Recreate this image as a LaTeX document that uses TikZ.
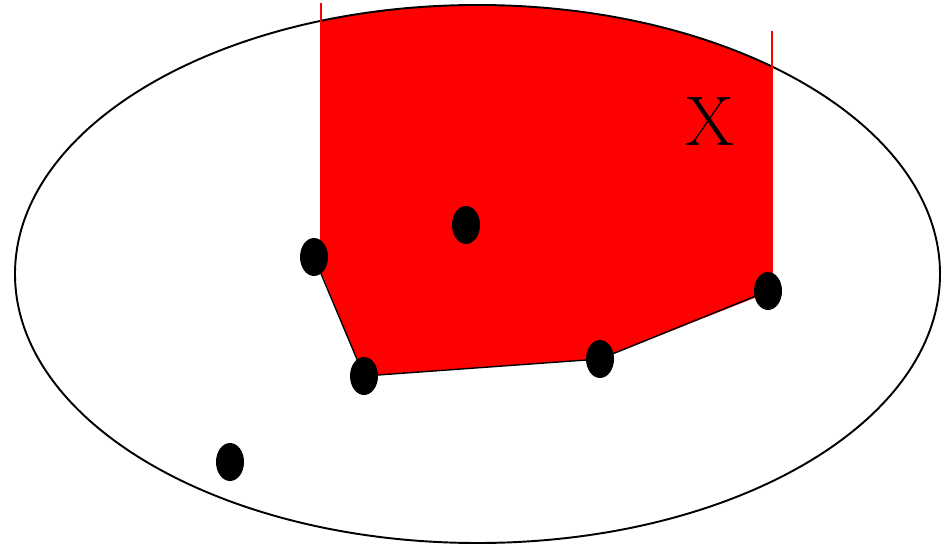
\documentclass[tikz,border=0pt]{standalone}
\usepackage{tikz}
\usetikzlibrary{shapes.geometric}

\begin{document}
\begin{tikzpicture}[x=0.02cm,y=-0.02cm,
    dot/.style={ellipse,fill=black,inner sep=0pt,minimum width=0.56cm,minimum height=0.76cm},
    edge/.style={black,line width=0.8pt},
    cut/.style={red,line width=0.8pt}]
  \useasboundingbox (0,0) rectangle (942,547);
  % points
  \coordinate (o) at (477.5,274);
  \coordinate (ta) at (321,3);
  \coordinate (ba) at (321,271.6);
  \coordinate (tb) at (772,31);
  \coordinate (bb) at (772,291);
  \path (314,257) coordinate (c1) (364,376) coordinate (c2)
        (600,359) coordinate (c3) (768,291) coordinate (c4)
        (466,225) coordinate (c5) (230,462) coordinate (c6);
  % red region inside the ellipse
  \begin{scope}
    \clip (o) ellipse [x radius=462.5, y radius=269];
    \fill[red] (321,0) -- (ba) -- (c2) -- (c3) -- (bb) -- (772,0) -- cycle;
  \end{scope}
  \draw[line width=1.1pt] (o) ellipse [x radius=462.5, y radius=269];
  \draw[cut] (ta) -- (ba);
  \draw[cut] (tb) -- (bb);
  \draw[edge] (c1) -- (c2) -- (c3) -- (c4);
  \foreach \i in {1,...,6}
    \node[dot] (p\i) at (c\i) {};
  \node (x) at (710,122) {\fontsize{40}{44}\selectfont X};
\end{tikzpicture}
\end{document}
